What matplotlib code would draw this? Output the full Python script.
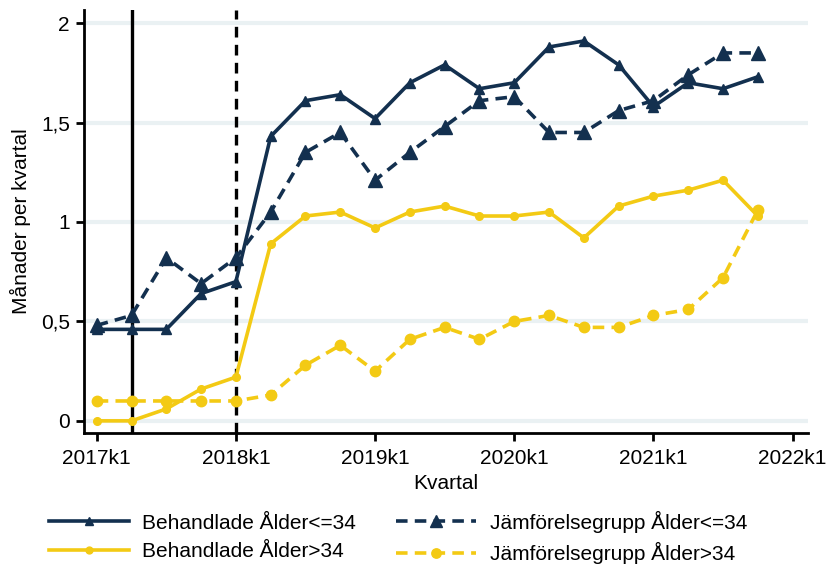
import numpy as np
import matplotlib.pyplot as plt

plt.rcParams['font.family'] = ['Liberation Sans', 'DejaVu Sans']

# kvartal 2017k1 .. 2021k4
kvartal = np.arange(20)
tick_pos = [0, 4, 8, 12, 16, 20]
tick_labels = ['2017k1', '2018k1', '2019k1', '2020k1', '2021k1', '2022k1']

beh_ung = [0.46, 0.46, 0.46, 0.64, 0.70, 1.43, 1.61, 1.64, 1.52, 1.70,
           1.79, 1.67, 1.70, 1.88, 1.91, 1.79, 1.58, 1.70, 1.67, 1.73]
jmf_ung = [0.48, 0.53, 0.82, 0.69, 0.82, 1.05, 1.35, 1.45, 1.21, 1.35,
           1.48, 1.61, 1.63, 1.45, 1.45, 1.56, 1.61, 1.74, 1.85, 1.85]
beh_aldre = [0.00, 0.00, 0.06, 0.16, 0.22, 0.89, 1.03, 1.05, 0.97, 1.05,
             1.08, 1.03, 1.03, 1.05, 0.92, 1.08, 1.13, 1.16, 1.21, 1.03]
jmf_aldre = [0.10, 0.10, 0.10, 0.10, 0.10, 0.13, 0.28, 0.38, 0.25, 0.41,
             0.47, 0.41, 0.50, 0.53, 0.47, 0.47, 0.53, 0.56, 0.72, 1.06]

navy = '#13304f'
gul = '#f3ca14'

fig = plt.figure(figsize=(8.3, 5.65), dpi=100)
ax = fig.add_axes([0.101, 0.234, 0.872, 0.748])

for y in [0, 0.5, 1, 1.5, 2]:
    ax.axhline(y, color='#eaf1f3', lw=3, zorder=0)

ax.axvline(1, color='black', lw=2.4, zorder=1)
ax.axvline(4, color='black', lw=2.4, ls=(0, (3.2, 2.2)), zorder=1)

l1, = ax.plot(kvartal, beh_ung, color=navy, lw=2.6, marker='^', ms=7,
              label='Behandlade Ålder<=34', zorder=3)
l2, = ax.plot(kvartal, beh_aldre, color=gul, lw=2.6, marker='o', ms=5.5,
              label='Behandlade Ålder>34', zorder=3)
l3, = ax.plot(kvartal, jmf_ung, color=navy, lw=2.6, ls=(0, (3.2, 2.0)),
              marker='^', ms=9.5, label='Jämförelsegrupp Ålder<=34', zorder=3)
l4, = ax.plot(kvartal, jmf_aldre, color=gul, lw=2.6, ls=(0, (3.2, 2.0)),
              marker='o', ms=7.5, label='Jämförelsegrupp Ålder>34', zorder=3)

ax.set_xlim(-0.37, 20.43)
ax.set_ylim(-0.06, 2.065)
ax.set_xticks(tick_pos)
ax.set_xticklabels(tick_labels)
ax.set_yticks([0, 0.5, 1, 1.5, 2])
ax.set_yticklabels(['0', '0,5', '1', '1,5', '2'])
ax.tick_params(labelsize=15, width=2, length=6, direction='out', colors='black', pad=4)
ax.tick_params(axis='x', pad=6)
for s in ['top', 'right']:
    ax.spines[s].set_visible(False)
for s in ['left', 'bottom']:
    ax.spines[s].set_linewidth(2)
ax.set_xlabel('Kvartal', fontsize=15, labelpad=4)
ax.set_ylabel('Månader per kvartal', fontsize=15, labelpad=7)

fig.legend(handles=[l1, l2, l3, l4], loc='upper left',
           bbox_to_anchor=(0.046, 0.115), ncol=2, frameon=False, fontsize=15,
           handlelength=3.85, markerscale=0.9,
           columnspacing=1.9, labelspacing=0.45, borderpad=0, handletextpad=0.65)

fig.savefig('out.png', dpi=100)
